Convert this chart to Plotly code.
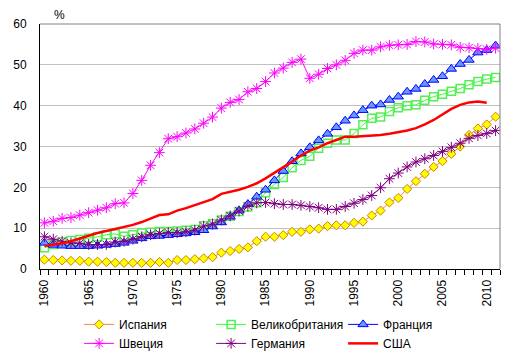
import plotly.graph_objects as go

years = list(range(1960, 2012))
years_usa = list(range(1960, 2011))

spain = [2.3, 2.2, 2.1, 2.0, 2.0, 1.8, 1.8, 1.7, 1.5, 1.5, 1.5, 1.5, 1.5, 1.7, 1.5, 2.2, 2.2, 2.4, 2.6, 2.9,
         4.0, 4.4, 4.9, 5.3, 6.8, 7.9, 7.9, 8.3, 9.1, 9.1, 9.7, 9.9, 10.5, 10.7, 10.7, 11.3, 11.6, 13.1, 14.3, 16.3,
         17.4, 19.6, 21.5, 23.3, 25.0, 26.4, 28.2, 30.0, 32.8, 34.4, 35.4, 37.3]
uk = [5.2, 6.0, 6.6, 7.0, 7.2, 7.5, 7.9, 8.4, 8.6, 8.0, 8.4, 8.8, 9.0, 9.2, 9.2, 9.3, 9.5, 9.7, 10.6, 11.1,
      12.0, 12.9, 14.1, 15.2, 16.2, 18.7, 20.7, 22.4, 24.8, 26.6, 27.6, 29.6, 30.8, 31.6, 31.6, 33.2, 35.3, 36.9, 37.2, 38.6,
      39.5, 40.0, 40.2, 41.3, 42.2, 42.8, 43.5, 44.2, 45.1, 45.9, 46.5, 46.9]
france = [6.4, 5.9, 5.7, 5.6, 5.6, 5.6, 5.7, 5.9, 6.1, 6.4, 6.9, 7.5, 8.0, 8.1, 8.3, 8.5, 8.7, 9.0, 9.5, 10.4,
          11.4, 12.8, 14.3, 15.9, 17.7, 19.4, 21.7, 24.0, 26.4, 28.3, 29.8, 31.5, 33.1, 34.7, 36.3, 37.6, 38.9, 40.0, 40.3, 41.4,
          42.2, 43.4, 44.1, 45.3, 46.3, 47.2, 49.0, 50.2, 51.2, 53.0, 53.6, 54.7]
sweden = [11.3, 11.7, 12.4, 12.6, 13.2, 13.8, 14.4, 15.0, 16.0, 16.2, 18.5, 21.7, 25.4, 28.5, 31.9, 32.4, 33.3, 34.3, 35.7, 37.2,
          39.4, 40.8, 41.5, 43.4, 44.2, 45.9, 48.0, 49.2, 50.6, 51.4, 46.7, 47.7, 49.1, 50.0, 51.1, 52.8, 53.6, 53.6, 54.4, 54.8,
          54.9, 55.0, 55.7, 55.6, 55.1, 55.0, 54.9, 54.3, 54.2, 54.0, 53.8, 54.1]
germany = [7.9, 7.3, 6.8, 6.4, 6.3, 6.0, 6.0, 6.0, 6.6, 6.8, 7.3, 7.9, 8.4, 8.7, 8.9, 8.9, 9.1, 9.5, 10.5, 11.0,
           12.0, 13.0, 14.2, 15.4, 16.2, 16.3, 16.0, 15.8, 15.8, 15.6, 15.3, 15.0, 14.6, 14.6, 15.3, 16.1, 17.0, 18.0, 19.9, 22.1,
           23.5, 25.0, 26.2, 27.0, 27.8, 28.8, 29.8, 30.8, 32.0, 32.7, 33.2, 33.9]
usa = [5.6, 5.9, 6.3, 6.8, 7.5, 8.2, 8.8, 9.3, 9.8, 10.2, 10.8, 11.5, 12.4, 13.2, 13.4, 14.3, 14.9, 15.6, 16.3, 17.1,
       18.4, 18.9, 19.4, 20.1, 21.0, 22.2, 23.5, 25.0, 26.3, 27.8, 29.0, 29.8, 30.8, 31.6, 32.4, 32.4, 32.5, 32.7, 32.8, 33.1,
       33.5, 33.9, 34.5, 35.4, 36.5, 37.8, 39.2, 40.2, 40.8, 41.0, 40.7]

tick_years = list(range(1960, 2011, 5))
tick_labels = [str(y) for y in tick_years]

FONT = "Liberation Sans, Arial, sans-serif"

fig = go.Figure()
fig.add_trace(go.Scatter(x=years, y=spain, name="Испания", mode="lines+markers",
                         line=dict(color="#FF8040", width=1),
                         marker=dict(symbol="diamond", size=7, color="#FFFF00",
                                     line=dict(color="#D08000", width=1))))
fig.add_trace(go.Scatter(x=years, y=uk, name="Великобритания", mode="lines+markers",
                         line=dict(color="#33FF33", width=1),
                         marker=dict(symbol="square-open", size=8, color="#55EE55",
                                     line=dict(color="#55EE55", width=1.5))))
fig.add_trace(go.Scatter(x=years, y=france, name="Франция", mode="lines+markers",
                         line=dict(color="#0000FF", width=1),
                         marker=dict(symbol="triangle-up", size=9, color="#6699FF",
                                     line=dict(color="#0000FF", width=1))))
fig.add_trace(go.Scatter(x=years, y=sweden, name="Швеция", mode="lines+markers",
                         line=dict(color="#FF00FF", width=1),
                         marker=dict(symbol="asterisk-open", size=9, color="#FF00FF",
                                     line=dict(color="#FF00FF", width=1))))
fig.add_trace(go.Scatter(x=years, y=germany, name="Германия", mode="lines+markers",
                         line=dict(color="#800080", width=1),
                         marker=dict(symbol="asterisk-open", size=9, color="#800080",
                                     line=dict(color="#800080", width=1))))
fig.add_trace(go.Scatter(x=years_usa, y=usa, name="США", mode="lines",
                         line=dict(color="#FF0000", width=2.5)))

# page body has an 8px margin: figure is sized/offset to keep plot area at the reference position
fig.update_layout(
    width=507, height=349,
    margin=dict(l=32, r=15, t=16, b=88, autoexpand=False),
    paper_bgcolor="white", plot_bgcolor="white",
    font=dict(family=FONT, size=12, color="black"),
    showlegend=True,
    legend=dict(orientation="h", xref="paper", x=0.085, xanchor="left",
                yref="container", y=0.135, yanchor="top",
                entrywidth=87, entrywidthmode="pixels", itemwidth=30,
                font=dict(family=FONT, size=12), tracegroupgap=0,
                bgcolor="rgba(0,0,0,0)"),
    annotations=[dict(text="%", xref="paper", yref="paper", x=0.043, y=1.038,
                      xanchor="center", yanchor="middle", showarrow=False,
                      font=dict(family=FONT, size=12))],
)

fig.update_xaxes(range=[1959.5, 2011.5], tickmode="array", tickvals=tick_years, ticktext=tick_labels,
                 tickangle=-90, ticks="outside", ticklen=0, tickcolor="black",
                 showgrid=False, zeroline=False, showline=True, linecolor="black", linewidth=1,
                 mirror=False, ticklabelstandoff=5, automargin=False,
                 minor=dict(tickmode="linear", tick0=1959.5, dtick=1, ticks="outside",
                            ticklen=5, tickcolor="black", showgrid=False),
                 tickfont=dict(family=FONT, size=12))
fig.update_yaxes(range=[0, 60], dtick=10, showgrid=True, gridcolor="#C0C0C0", gridwidth=1,
                 zeroline=False, showline=True, linecolor="black", linewidth=1, automargin=False,
                 ticks="", ticklabelstandoff=10, tickfont=dict(family=FONT, size=12))

# gray plot-area border on top and right
fig.add_shape(type="line", xref="paper", yref="paper", x0=0, x1=1, y0=1, y1=1,
              line=dict(color="#808080", width=1))
fig.add_shape(type="line", xref="paper", yref="paper", x0=1, x1=1, y0=0, y1=1,
              line=dict(color="#808080", width=1))

fig.write_html("out.html")
